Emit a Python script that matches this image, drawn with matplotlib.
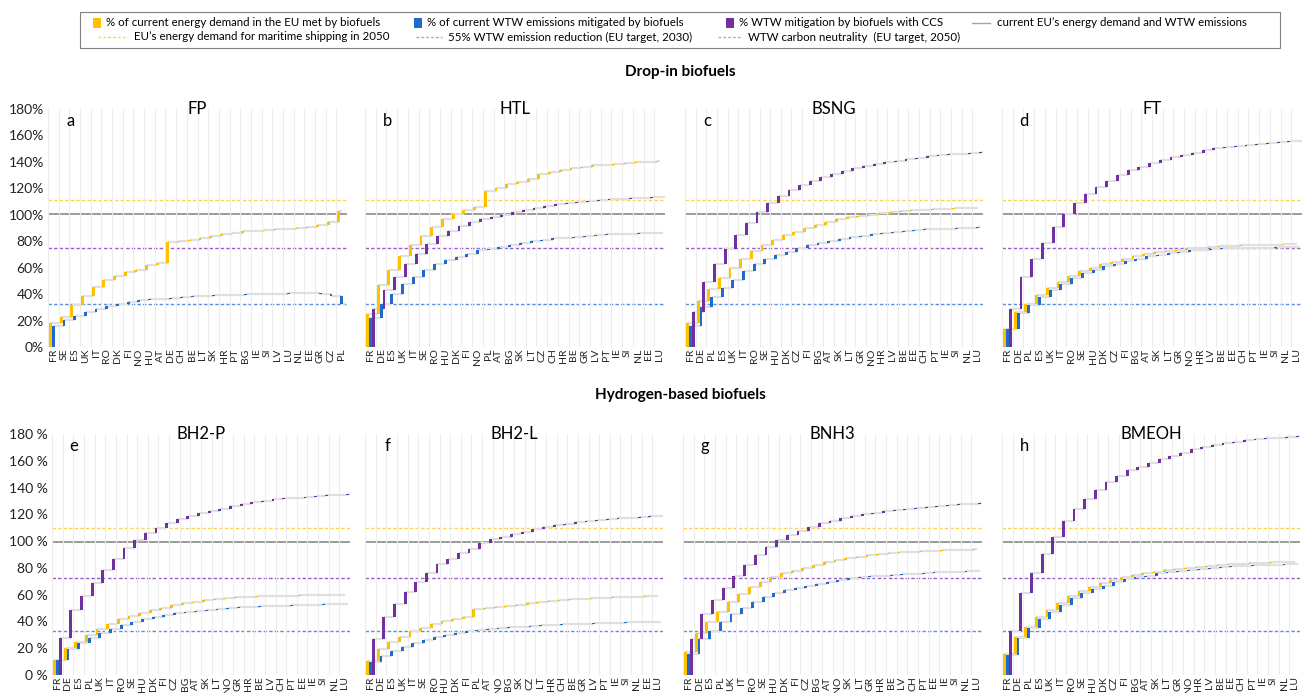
import numpy as np
import matplotlib.pyplot as plt
from matplotlib.patches import Rectangle
from matplotlib.lines import Line2D

plt.rcParams['font.family'] = ['Lato', 'DejaVu Sans']

# ---- data: cumulative share (%) after each country is added ----
countries_fp = ["FR", "SE", "ES", "UK", "IT", "RO", "DK", "FI", "NO", "HU", "AT", "DE", "CH", "BE",
                "LT", "SK", "HR", "PT", "BG", "IE", "SI", "LV", "LU", "NL", "EE", "GR", "CZ", "PL"]
energy_fp = [18.4, 22.7, 31.6, 38.6, 45.5, 51.0, 53.8, 56.8, 58.0, 61.9, 63.9, 79.5, 80.3, 81.3,
             82.6, 84.1, 85.1, 85.9, 87.4, 87.9, 88.4, 89.1, 89.6, 89.9, 90.4, 92.2, 94.7, 103.0]
wtw_fp = [15.7, 20.2, 23.5, 26.5, 29.0, 30.8, 32.6, 34.1, 35.4, 36.1, 36.6, 37.4, 37.9, 38.6,
          38.9, 39.1, 39.4, 39.6, 39.9, 40.1, 40.4, 40.4, 40.7, 40.7, 40.7, 40.2, 38.5, 32.5]
ccs_fp = None

countries_htl = ["FR", "DE", "ES", "UK", "IT", "SE", "RO", "HU", "DK", "FI", "NO", "PL", "AT", "BG",
                 "SK", "LT", "CZ", "CH", "HR", "BE", "GR", "LV", "PT", "IE", "SI", "NL", "EE", "LU"]
energy_htl = [24.7, 47.2, 58.1, 68.7, 77.5, 83.8, 90.9, 96.7, 100.5, 103.5, 106.0, 118.2, 120.4, 123.2,
              125.0, 126.8, 130.8, 132.6, 133.8, 135.1, 136.4, 137.4, 137.9, 138.6, 139.1, 139.6, 140.1, 140.6]
wtw_htl = [22.0, 32.8, 40.4, 47.5, 53.0, 58.1, 63.1, 65.7, 68.2, 70.7, 73.2, 74.2, 75.8, 77.3,
           78.8, 80.3, 81.3, 82.1, 82.8, 83.3, 84.1, 84.6, 85.1, 85.3, 85.6, 85.9, 85.9, 85.9]
ccs_htl = [29.0, 43.4, 53.0, 62.4, 70.2, 77.8, 84.1, 87.9, 91.7, 94.7, 96.5, 98.5, 100.2, 101.8,
           103.3, 105.3, 106.6, 107.8, 108.6, 109.3, 110.3, 111.1, 111.6, 112.1, 112.4, 112.9, 113.1, 113.6]

countries_bsng = ["FR", "DE", "PL", "ES", "UK", "IT", "RO", "SE", "HU", "DK", "CZ", "FI", "BG", "AT",
                  "SK", "LT", "GR", "NO", "HR", "LV", "BE", "EE", "CH", "PT", "IE", "SI", "NL", "LU"]
energy_bsng = [18.2, 34.8, 43.7, 52.5, 59.8, 66.9, 72.5, 77.5, 81.3, 84.6, 87.1, 90.1, 92.2, 94.7,
               96.5, 98.0, 99.2, 100.2, 101.0, 101.8, 102.5, 103.3, 103.8, 104.3, 104.5, 104.8, 105.0, 105.3]
wtw_bsng = [15.7, 30.3, 37.9, 44.9, 51.0, 57.3, 62.6, 66.2, 69.4, 72.0, 74.5, 77.0, 78.8, 80.3,
            81.6, 83.1, 84.3, 85.3, 86.4, 87.1, 87.9, 88.4, 88.9, 89.4, 89.6, 89.9, 90.1, 90.4]
ccs_bsng = [26.5, 49.2, 62.6, 74.0, 84.6, 93.9, 101.8, 108.6, 114.1, 118.7, 122.5, 125.7, 128.8, 130.8,
            133.1, 135.1, 136.9, 138.4, 139.9, 140.9, 142.2, 143.2, 144.2, 144.9, 145.7, 146.2, 146.7, 147.2]

countries_ft = ["FR", "DE", "PL", "ES", "UK", "IT", "RO", "SE", "HU", "DK", "CZ", "FI", "BG", "AT",
                "SK", "LT", "GR", "NO", "HR", "LV", "BE", "EE", "CH", "PT", "IE", "SI", "NL", "LU"]
energy_ft = [13.9, 26.5, 32.8, 39.1, 44.7, 49.2, 53.8, 57.3, 60.1, 62.6, 64.6, 66.7, 68.7, 70.2,
             71.5, 72.7, 73.7, 74.5, 75.2, 75.8, 76.3, 76.5, 76.8, 77.0, 77.3, 77.5, 77.8, 78.0]
wtw_ft = [13.9, 25.8, 31.6, 37.9, 43.4, 48.0, 52.3, 55.6, 58.6, 61.1, 63.1, 65.1, 66.9, 68.7,
          69.9, 71.2, 72.2, 73.0, 73.5, 74.0, 74.5, 74.7, 75.0, 75.2, 75.2, 75.5, 75.5, 75.5]
ccs_ft = [29.0, 53.0, 66.9, 79.0, 90.4, 100.5, 108.6, 115.6, 121.2, 125.7, 130.0, 133.8, 136.4, 138.9,
          141.4, 143.4, 145.2, 147.0, 149.0, 150.2, 151.2, 152.3, 153.0, 153.8, 154.5, 155.0, 155.5, 156.0]

countries_bh2p = ["FR", "DE", "ES", "PL", "UK", "IT", "RO", "SE", "HU", "DK", "FI", "CZ", "BG", "AT",
                  "SK", "LT", "NO", "GR", "HR", "BE", "LV", "CH", "PT", "EE", "IE", "SI", "NL", "LU"]
energy_bh2p = [11.2, 20.4, 24.9, 29.9, 34.4, 38.1, 41.6, 44.1, 46.6, 48.6, 50.3, 52.0, 53.5, 54.8,
               55.8, 56.5, 57.3, 58.0, 58.5, 58.8, 59.0, 59.3, 59.3, 59.5, 59.5, 59.8, 59.8, 59.8]
wtw_bh2p = [11.2, 19.2, 23.7, 27.4, 31.1, 34.4, 37.4, 39.8, 41.8, 43.6, 44.8, 46.1, 47.1, 48.1,
            48.8, 49.6, 50.0, 50.5, 51.0, 51.3, 51.5, 51.8, 52.0, 52.3, 52.5, 52.8, 53.0, 53.0]
ccs_bh2p = [27.9, 48.6, 59.0, 68.5, 78.4, 86.7, 94.6, 100.8, 105.8, 109.6, 113.3, 116.8, 118.8, 120.8,
            122.8, 124.3, 126.2, 127.7, 129.2, 130.2, 131.2, 132.0, 132.5, 133.0, 133.5, 134.2, 134.7, 135.2]

countries_bh2l = ["FR", "DE", "ES", "UK", "IT", "SE", "RO", "HU", "DK", "FI", "PL", "AT", "NO", "BG",
                  "SK", "CZ", "LT", "HR", "CH", "BE", "GR", "LV", "PT", "IE", "SI", "NL", "EE", "LU"]
energy_bh2l = [10.5, 19.4, 24.4, 28.6, 32.9, 34.9, 37.8, 40.3, 41.8, 43.6, 49.1, 49.8, 50.5, 51.5,
               52.5, 53.5, 54.5, 55.3, 56.0, 56.5, 57.0, 57.3, 57.8, 58.0, 58.3, 58.5, 58.8, 59.0]
wtw_bh2l = [9.5, 14.2, 18.2, 21.2, 23.7, 26.1, 28.1, 29.9, 31.6, 32.9, 33.6, 34.1, 34.9, 35.6,
            36.1, 36.6, 37.1, 37.6, 37.8, 38.1, 38.3, 38.6, 38.8, 39.1, 39.3, 39.6, 39.6, 39.6]
ccs_bh2l = [26.9, 43.1, 52.8, 62.3, 69.7, 75.9, 82.7, 86.7, 90.9, 93.9, 98.9, 101.3, 103.3, 105.3,
            106.8, 109.3, 110.8, 112.1, 113.0, 114.0, 115.0, 115.8, 116.5, 117.0, 117.5, 118.0, 118.5, 118.8]

countries_bnh3 = ["FR", "DE", "ES", "PL", "UK", "IT", "RO", "SE", "HU", "DK", "FI", "CZ", "BG", "AT",
                  "NO", "SK", "LT", "GR", "HR", "BE", "LV", "CH", "PT", "EE", "IE", "SI", "NL", "LU"]
energy_bnh3 = [17.4, 31.6, 39.3, 47.3, 54.3, 60.3, 65.5, 69.7, 73.0, 75.9, 77.7, 80.2, 82.2, 84.2,
               85.7, 87.2, 88.4, 89.6, 90.4, 91.1, 91.6, 92.1, 92.6, 92.9, 93.1, 93.4, 93.6, 93.9]
wtw_bnh3 = [15.7, 26.6, 33.1, 39.3, 45.6, 50.3, 54.3, 58.3, 61.5, 63.5, 65.2, 66.7, 68.0, 69.7,
            71.0, 72.2, 73.0, 73.7, 74.2, 74.7, 75.2, 75.7, 76.2, 76.7, 76.9, 77.2, 77.4, 77.7]
ccs_bnh3 = [26.6, 45.6, 56.0, 64.7, 74.2, 82.2, 89.4, 95.9, 100.8, 104.6, 107.8, 110.8, 113.3, 115.3,
            117.0, 118.8, 120.0, 121.3, 122.3, 123.3, 124.3, 125.0, 125.7, 126.5, 127.0, 127.5, 128.0, 128.5]

countries_bmeoh = ["FR", "DE", "PL", "ES", "UK", "IT", "RO", "SE", "HU", "DK", "CZ", "FI", "BG", "AT",
                   "SK", "LT", "GR", "NO", "HR", "LV", "BE", "EE", "CH", "PT", "IE", "SI", "NL", "LU"]
energy_bmeoh = [15.7, 28.6, 36.1, 43.1, 48.6, 54.0, 59.0, 62.7, 66.0, 68.5, 71.0, 73.0, 74.7, 75.9,
                77.2, 78.4, 79.2, 80.2, 80.9, 81.7, 82.2, 82.7, 83.2, 83.7, 83.9, 84.2, 84.4, 84.7]
wtw_bmeoh = [14.9, 27.9, 34.9, 41.6, 47.3, 52.3, 57.3, 61.0, 64.2, 66.7, 69.2, 71.5, 73.0, 74.2,
             75.9, 76.9, 77.9, 78.7, 79.4, 79.9, 80.7, 81.2, 81.7, 81.9, 82.2, 82.4, 82.7, 82.7]
ccs_bmeoh = [33.1, 61.5, 76.4, 90.4, 103.3, 115.0, 124.3, 131.7, 138.2, 143.9, 148.7, 152.8, 155.6, 158.6,
             161.1, 163.6, 166.0, 168.6, 170.3, 171.8, 173.0, 174.3, 175.3, 176.0, 176.8, 177.3, 177.8, 178.3]

# reference levels: current demand, 2050 shipping demand, 2050 neutrality, 2030 target
targets_top = [100.5, 110.8, 74.5, 32.5]
targets_bottom = [99.5, 109.6, 72.5, 33.0]

yellow, blue, purple = "#ffc000", "#1f6bcc", "#7030a0"

W, H = 1302, 693
fig = plt.figure(figsize=(W / 100, H / 100), dpi=100)


def fig_axes(left, top, right, bottom):
    return fig.add_axes([left / W, 1 - bottom / H, (right - left) / W, (bottom - top) / H])


def waterfall(ax, countries, series, targets, letter, title, ylabels):
    n = len(countries)
    x = np.arange(n)
    w = 0.27
    offsets = [-w, 0, w]
    for (vals, col), o in zip(series, offsets):
        if vals is None:
            continue
        vals = np.asarray(vals, dtype=float)
        prev = np.concatenate([[0.0], vals[:-1]])
        xs = x + o
        ends = np.append(xs[1:], xs[-1] + 0.3)
        ax.hlines(vals, xs, ends, color="#e0e0e0", lw=1.6, zorder=2)
        ax.bar(xs, vals - prev, bottom=prev, width=w, color=col, zorder=3, linewidth=0)

    cur, ship, neutral, t2030 = targets
    ax.axhline(cur, color="#808080", lw=1.1, zorder=1)
    ax.axhline(ship, color="#ffd24d", lw=1.0, ls=(0, (2.5, 1.5)), zorder=1)
    ax.axhline(neutral, color="#9a5ccc", lw=1.0, ls=(0, (2.5, 1.5)), zorder=1)
    ax.axhline(t2030, color="#5a8ee0", lw=1.0, ls=(0, (2.5, 1.5)), zorder=1)

    ax.set_xlim(-0.5, n - 0.5)
    ax.set_ylim(0, 180)
    ax.set_xticks(x)
    ax.set_xticklabels(countries, rotation=90, fontsize=7.5, color="#222222")
    ax.set_xticks(np.arange(-0.5, n), minor=True)
    ax.grid(axis="x", which="minor", color="#ededed", lw=0.8, zorder=0)
    ax.tick_params(axis="both", which="both", length=0, pad=1)
    ax.set_yticks(np.arange(0, 181, 20))
    if ylabels:
        ax.set_yticklabels(ylabels, fontsize=10, color="#222222")
        ax.tick_params(axis="y", pad=3)
    else:
        ax.set_yticklabels([])
    for s in ax.spines.values():
        s.set_visible(False)
    ax.text(0.5, 1.0, title, transform=ax.transAxes, ha="center", va="center", fontsize=12)
    ax.text(0.074, 0.95, letter, transform=ax.transAxes, ha="center", va="center", fontsize=12)


top_labels = [f"{v}%" for v in range(0, 181, 20)]
bottom_labels = [f"{v} %" for v in range(0, 181, 20)]

top_cols = [(48, 347), (365, 665), (685, 983), (1002, 1302)]
bottom_cols = [(52, 350), (365, 663), (683, 982), (1002, 1300)]

top_panels = [
    ("a", "FP", countries_fp, energy_fp, wtw_fp, ccs_fp),
    ("b", "HTL", countries_htl, energy_htl, wtw_htl, ccs_htl),
    ("c", "BSNG", countries_bsng, energy_bsng, wtw_bsng, ccs_bsng),
    ("d", "FT", countries_ft, energy_ft, wtw_ft, ccs_ft),
]
bottom_panels = [
    ("e", "BH2-P", countries_bh2p, energy_bh2p, wtw_bh2p, ccs_bh2p),
    ("f", "BH2-L", countries_bh2l, energy_bh2l, wtw_bh2l, ccs_bh2l),
    ("g", "BNH3", countries_bnh3, energy_bnh3, wtw_bnh3, ccs_bnh3),
    ("h", "BMEOH", countries_bmeoh, energy_bmeoh, wtw_bmeoh, ccs_bmeoh),
]

for i, ((l, r), (letter, title, c, e, wt, cc)) in enumerate(zip(top_cols, top_panels)):
    ax = fig_axes(l, 109, r, 347)
    waterfall(ax, c, [(e, yellow), (wt, blue), (cc, purple)], targets_top, letter, title,
              top_labels if i == 0 else None)

for i, ((l, r), (letter, title, c, e, wt, cc)) in enumerate(zip(bottom_cols, bottom_panels)):
    ax = fig_axes(l, 434, r, 675)
    waterfall(ax, c, [(e, yellow), (wt, blue), (cc, purple)], targets_bottom, letter, title,
              bottom_labels if i == 0 else None)

fig.text(680 / W, 1 - 72 / H, "Drop-in biofuels", ha="center", va="center", fontsize=11, fontweight="bold")
fig.text(680 / W, 1 - 395 / H, "Hydrogen-based biofuels", ha="center", va="center", fontsize=11,
         fontweight="bold")

# ---- legend (drawn by hand to follow the two-row layout) ----
tf = fig.transFigure
fig.add_artist(Rectangle((80 / W, 1 - 48 / H), 1200 / W, 36 / H, transform=tf, fill=False,
                         edgecolor="#808080", lw=0.8))

row1 = 1 - 23 / H
row2 = 1 - 37 / H
squares = [(93, yellow, "% of current energy demand in the EU met by biofuels"),
           (414, blue, "% of current WTW emissions mitigated by biofuels"),
           (726, purple, "% WTW mitigation by biofuels with CCS")]
for px, col, label in squares:
    fig.add_artist(Rectangle((px / W, row1 - 4.5 / H), 8 / W, 9 / H, transform=tf, color=col, lw=0))
    fig.text((px + 13) / W, row1, label, ha="left", va="center", fontsize=8.3)
fig.add_artist(Line2D([972 / W, 990 / W], [row1, row1], transform=tf, color="#a6a6a6", lw=1))
fig.text(997 / W, row1, "current EU\u2019s energy demand and WTW emissions", ha="left", va="center",
         fontsize=8.3)

dashes = [(98, 128, "#ffd24d", "EU\u2019s energy demand for maritime shipping in 2050"),
          (416, 442, "#8fb0e8", "55% WTW emission reduction (EU target, 2030)"),
          (718, 742, "#c39be0", "WTW carbon neutrality  (EU target, 2050)")]
for x0, x1, col, label in dashes:
    fig.add_artist(Line2D([x0 / W, x1 / W], [row2, row2], transform=tf, color=col, lw=1,
                          ls=(0, (2, 1.5))))
    fig.text((x1 + 6) / W, row2, label, ha="left", va="center", fontsize=8.3)

fig.savefig("out.png", dpi=100)
